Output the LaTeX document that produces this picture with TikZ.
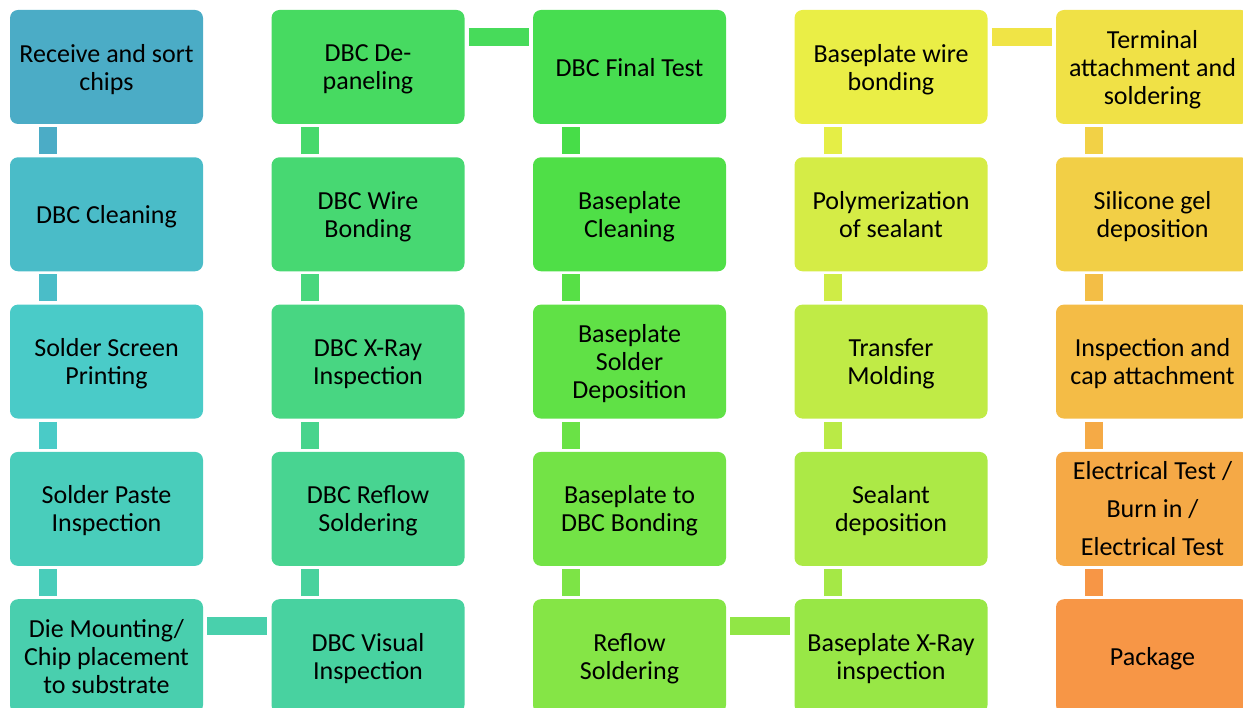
\documentclass[tikz,border=0pt]{standalone}
\usepackage{fontspec}
\setmainfont{Carlito}
\usepackage{xcolor}
\globalcolorstrue
\newcommand\mkhsl[2]{%
 \pgfmathsetmacro\hH{192.7-165.6*#1}%
 \pgfmathsetmacro\hS{0.519+0.398*#1}%
 \pgfmathsetmacro\hL{0.535+0.087*#1}%
 \pgfmathsetmacro\hC{(1-abs(2*\hL-1))*\hS}%
 \pgfmathsetmacro\hX{\hC*(1-abs(mod(\hH/60,2)-1))}%
 \pgfmathsetmacro\hM{\hL-\hC/2}%
 \pgfmathsetmacro\hR{\hH<60 ? \hC+\hM : (\hH<120 ? \hX+\hM : \hM)}%
 \pgfmathsetmacro\hG{\hH<60 ? \hX+\hM : (\hH<180 ? \hC+\hM : \hX+\hM)}%
 \pgfmathsetmacro\hB{\hH<120 ? \hM : (\hH<180 ? \hX+\hM : \hC+\hM)}%
 \edef\hTmp{\noexpand\definecolor{#2}{rgb}{\hR,\hG,\hB}}\hTmp}
\foreach \i in {0,...,24}{\pgfmathsetmacro\tt{\i/24}\mkhsl{\tt}{n\i}}
\foreach \j in {0,...,23}{\pgfmathsetmacro\tt{\j/23}\mkhsl{\tt}{k\j}}
\tikzset{
  box/.style={rectangle, rounded corners=8pt, minimum width=193pt, minimum height=114pt,
    inner sep=0pt, align=center, text=black, text depth=0pt, font=\fontsize{26}{28}\selectfont},
  vcon/.style={line width=18pt},
  hcon/.style={line width=18pt}
}
\begin{document}
\begin{tikzpicture}[x=1pt,y=-1pt]
\useasboundingbox (0,0) rectangle (1243,708);
\clip (0,0) rectangle (1243,708);
% column 1
\node[box,fill=n0] (n0) at (106.5,67) {Receive and sort\\chips};
\node[box,fill=n1] (n1) at (106.5,214.3) {DBC Cleaning};
\node[box,fill=n2] (n2) at (106.5,361.6) {Solder Screen\\Printing};
\node[box,fill=n3] (n3) at (106.5,508.9) {Solder Paste\\Inspection};
\node[box,fill=n4] (n4) at (106.5,656.2) {Die Mounting/\\Chip placement\\to substrate};
% column 2
\node[box,fill=n5] (n5) at (368,656.2) {DBC Visual\\Inspection};
\node[box,fill=n6] (n6) at (368,508.9) {DBC Reflow\\Soldering};
\node[box,fill=n7] (n7) at (368,361.6) {DBC X-Ray\\Inspection};
\node[box,fill=n8] (n8) at (368,214.3) {DBC Wire\\Bonding};
\node[box,fill=n9] (n9) at (368,67) {DBC De-\\paneling};
% column 3
\node[box,fill=n10] (n10) at (629.5,67) {DBC Final Test};
\node[box,fill=n11] (n11) at (629.5,214.3) {Baseplate\\Cleaning};
\node[box,fill=n12] (n12) at (629.5,361.6) {Baseplate\\Solder\\Deposition};
\node[box,fill=n13] (n13) at (629.5,508.9) {Baseplate to\\DBC Bonding};
\node[box,fill=n14] (n14) at (629.5,656.2) {Reflow\\Soldering};
% column 4
\node[box,fill=n15] (n15) at (891,656.2) {Baseplate X-Ray\\inspection};
\node[box,fill=n16] (n16) at (891,508.9) {Sealant\\deposition};
\node[box,fill=n17] (n17) at (891,361.6) {Transfer\\Molding};
\node[box,fill=n18] (n18) at (891,214.3) {Polymerization\\of sealant};
\node[box,fill=n19] (n19) at (891,67) {Baseplate wire\\bonding};
% column 5
\node[box,fill=n20] (n20) at (1152.5,67) {Terminal\\attachment and\\soldering};
\node[box,fill=n21] (n21) at (1152.5,214.3) {Silicone gel\\deposition};
\node[box,fill=n22] (n22) at (1152.5,361.6) {Inspection and\\cap attachment};
\node[box,fill=n23,font=\fontsize{26}{38}\selectfont] (n23) at (1152.5,508.9) {Electrical Test /\\Burn in /\\Electrical Test};
\node[box,fill=n24] (n24) at (1152.5,656.2) {Package};
% vertical connectors (downward flow)
\foreach \a/\b/\c in {n0/n1/k0,n1/n2/k1,n2/n3/k2,n3/n4/k3,
                      n10/n11/k10,n11/n12/k11,n12/n13/k12,n13/n14/k13,
                      n20/n21/k20,n21/n22/k21,n22/n23/k22,n23/n24/k23}
  \draw[vcon,draw=\c] ([xshift=-58.5pt,yshift=-3pt]\a.south) -- ([xshift=-58.5pt,yshift=3pt]\b.north);
% vertical connectors (upward flow)
\foreach \a/\b/\c in {n5/n6/k5,n6/n7/k6,n7/n8/k7,n8/n9/k8,
                      n15/n16/k15,n16/n17/k16,n17/n18/k17,n18/n19/k18}
  \draw[vcon,draw=\c] ([xshift=-58.5pt,yshift=3pt]\a.north) -- ([xshift=-58.5pt,yshift=-3pt]\b.south);
% horizontal connectors
\foreach \a/\b/\c in {n4/n5/k4,n9/n10/k9,n14/n15/k14,n19/n20/k19}
  \draw[hcon,draw=\c] ([xshift=4pt,yshift=30pt]\a.east) -- ([xshift=-4pt,yshift=30pt]\b.west);
\end{tikzpicture}
\end{document}
